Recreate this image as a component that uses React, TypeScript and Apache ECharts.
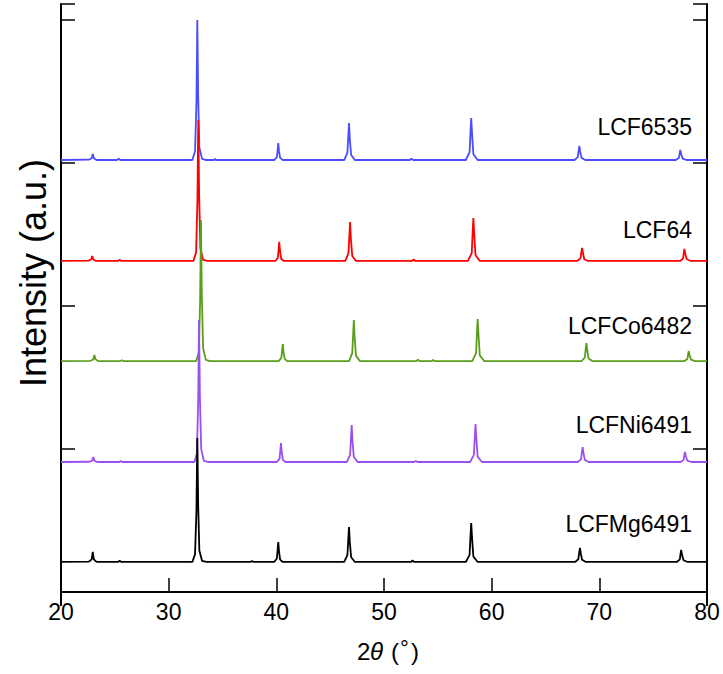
import React, { useEffect, useRef } from "react";
import * as echarts from "echarts";

// 2θ (deg), intensity above each pattern's own baseline (1000 = one y tick)
const lcf6535: number[][] = [
  [20, 0], [22.6, 2], [22.85, 12], [22.95, 42], [23.05, 12], [23.3, 0],
  [25.2, 0], [25.35, 10], [25.5, 0],
  [32.2, 0], [32.45, 60], [32.58, 400], [32.66, 979], [32.74, 450], [32.85, 90], [33.1, 8], [33.5, 0],
  [34.2, 0], [34.3, 8], [34.4, 0],
  [39.8, 0], [40.05, 20], [40.12, 70], [40.18, 119], [40.25, 60], [40.35, 15], [40.6, 0],
  [46.3, 0], [46.6, 50], [46.68, 160], [46.75, 259], [46.82, 150], [46.95, 35], [47.3, 0],
  [52.4, 0], [52.55, 10], [52.7, 0],
  [57.6, 0], [57.95, 55], [58.03, 190], [58.1, 294], [58.18, 180], [58.3, 40], [58.7, 0],
  [67.7, 0], [68.0, 20], [68.08, 65], [68.14, 98], [68.22, 60], [68.35, 15], [68.7, 0],
  [77.1, 0], [77.4, 15], [77.46, 45], [77.52, 70], [77.6, 40], [77.75, 10], [78.1, 0],
  [80, 0],
];

const lcf64: number[][] = [
  [20, 0], [22.55, 2], [22.8, 10], [22.9, 35], [23.0, 10], [23.25, 0],
  [25.3, 0], [25.45, 8], [25.6, 0],
  [32.3, 0], [32.55, 60], [32.67, 420], [32.75, 986], [32.83, 460], [32.95, 90], [33.2, 8], [33.6, 0],
  [39.9, 0], [40.14, 22], [40.21, 80], [40.27, 133], [40.34, 70], [40.45, 15], [40.7, 0],
  [46.4, 0], [46.7, 55], [46.78, 170], [46.85, 273], [46.92, 160], [47.05, 35], [47.4, 0],
  [52.6, 0], [52.75, 10], [52.9, 0],
  [57.8, 0], [58.15, 55], [58.23, 195], [58.3, 301], [58.38, 185], [58.5, 40], [58.9, 0],
  [67.95, 0], [68.25, 18], [68.33, 60], [68.4, 91], [68.48, 55], [68.6, 12], [68.95, 0],
  [77.5, 0], [77.78, 18], [77.84, 55], [77.9, 84], [77.98, 50], [78.12, 12], [78.5, 0],
  [80, 0],
];

const lcfco6482: number[][] = [
  [20, 0], [22.75, 2], [23.0, 12], [23.1, 42], [23.2, 12], [23.45, 0],
  [25.5, 0], [25.65, 6], [25.8, 0],
  [32.55, 0], [32.8, 60], [32.92, 420], [33.0, 986], [33.08, 460], [33.2, 90], [33.45, 8], [33.85, 0],
  [40.2, 0], [40.46, 20], [40.53, 70], [40.6, 119], [40.67, 60], [40.78, 15], [41.0, 0],
  [46.75, 0], [47.05, 55], [47.13, 180], [47.2, 287], [47.27, 170], [47.4, 38], [47.75, 0],
  [53.0, 0], [53.15, 10], [53.3, 0],
  [54.4, 0], [54.55, 8], [54.7, 0],
  [58.2, 0], [58.55, 55], [58.63, 190], [58.7, 294], [58.78, 180], [58.9, 40], [59.3, 0],
  [68.35, 0], [68.65, 25], [68.73, 80], [68.8, 126], [68.88, 75], [69.0, 18], [69.35, 0],
  [77.9, 0], [78.18, 15], [78.24, 45], [78.3, 70], [78.38, 40], [78.52, 10], [78.9, 0],
  [80, 0],
];

const lcfni6491: number[][] = [
  [20, 0], [22.65, 2], [22.9, 10], [23.0, 35], [23.1, 10], [23.35, 0],
  [25.4, 0], [25.55, 6], [25.7, 0],
  [32.4, 0], [32.62, 60], [32.74, 420], [32.82, 993], [32.9, 460], [33.02, 90], [33.27, 8], [33.7, 0],
  [40.05, 0], [40.3, 22], [40.37, 80], [40.43, 133], [40.5, 70], [40.61, 15], [40.85, 0],
  [46.55, 0], [46.85, 50], [46.93, 160], [47.0, 259], [47.07, 150], [47.2, 35], [47.55, 0],
  [52.8, 0], [52.95, 8], [53.1, 0],
  [58.0, 0], [58.35, 50], [58.43, 170], [58.5, 266], [58.58, 160], [58.7, 36], [59.1, 0],
  [68.0, 0], [68.3, 20], [68.38, 68], [68.45, 105], [68.53, 62], [68.65, 15], [69.0, 0],
  [77.55, 0], [77.83, 15], [77.89, 45], [77.95, 70], [78.03, 40], [78.17, 10], [78.55, 0],
  [80, 0],
];

const lcfmg6491: number[][] = [
  [20, 0], [22.6, 3], [22.85, 18], [22.95, 70], [23.05, 18], [23.3, 0],
  [25.3, 0], [25.45, 8], [25.6, 0],
  [32.2, 0], [32.45, 55], [32.58, 360], [32.66, 867], [32.74, 400], [32.85, 80], [33.1, 8], [33.5, 0],
  [37.6, 0], [37.75, 6], [37.9, 0],
  [39.8, 0], [40.05, 24], [40.12, 85], [40.18, 140], [40.25, 75], [40.35, 16], [40.6, 0],
  [46.3, 0], [46.6, 48], [46.68, 150], [46.75, 245], [46.82, 142], [46.95, 33], [47.3, 0],
  [52.5, 0], [52.65, 10], [52.8, 0],
  [57.6, 0], [57.95, 50], [58.03, 175], [58.1, 273], [58.18, 165], [58.3, 38], [58.7, 0],
  [67.75, 0], [68.05, 20], [68.13, 65], [68.2, 98], [68.28, 60], [68.4, 15], [68.75, 0],
  [77.2, 0], [77.48, 18], [77.54, 55], [77.6, 84], [77.68, 50], [77.82, 12], [78.2, 0],
  [80, 0],
];

const seriesNames = ["LCF6535", "LCF64", "LCFCo6482", "LCFNi6491", "LCFMg6491"];
const seriesData = [lcf6535, lcf64, lcfco6482, lcfni6491, lcfmg6491];
const offsets = [3021, 2315, 1615, 909, 210];
const colors = ["#4b4bff", "#ff0000", "#5a9e1c", "#9a4ff2", "#000000"];
const labelY = [128, 231, 327, 426, 525];
const xTicks = [20, 30, 40, 50, 60, 70, 80];

const FONT = "'Liberation Sans', Arial, sans-serif";

export default function App() {
  const ref = useRef<HTMLDivElement>(null);
  useEffect(() => {
    if (!ref.current) return;
    const chart = echarts.init(ref.current, undefined, { renderer: "svg" });
    const series = seriesData.map((d, i) => ({
      name: seriesNames[i],
      type: "line",
      xAxisIndex: 0,
      yAxisIndex: 0,
      showSymbol: false,
      symbol: "none",
      silent: true,
      lineStyle: { color: colors[i], width: 1.8 },
      data: d.map((p) => [p[0], p[1] + offsets[i]]),
    }));
    const labels = seriesNames.map((n, i) => ({
      type: "text",
      right: 31,
      top: labelY[i] - 13,
      style: { text: n, fontSize: 23, fontFamily: FONT, fill: "#000", textAlign: "right" },
    }));
    const nameStyle = { fontSize: 24, fontFamily: FONT, fill: "#000", textVerticalAlign: "middle" };
    chart.setOption({
      animation: false,
      backgroundColor: "#fff",
      grid: { left: 61, right: 16, top: 4, bottom: 82 },
      xAxis: [
        {
          type: "value",
          position: "bottom",
          min: xTicks[0],
          max: xTicks[xTicks.length - 1],
          interval: 10,
          axisLine: { lineStyle: { color: "#000", width: 2 } },
          axisTick: { inside: true, length: 14, lineStyle: { color: "#000", width: 1.5 } },
          axisLabel: { fontSize: 23, color: "#000", fontFamily: FONT, margin: 8 },
          splitLine: { show: false },
        },
        {
          type: "value",
          position: "top",
          min: xTicks[0],
          max: xTicks[xTicks.length - 1],
          axisLine: { lineStyle: { color: "#000", width: 2 } },
          axisTick: { inside: true, length: 14, customValues: [20, 80], lineStyle: { color: "#000", width: 2 } },
          axisLabel: { show: false },
          splitLine: { show: false },
        },
      ],
      yAxis: [
        {
          type: "value",
          position: "left",
          min: 0,
          max: 4112,
          interval: 1000,
          axisLine: { show: true, lineStyle: { color: "#000", width: 2 } },
          axisTick: { show: true, inside: true, length: 14, lineStyle: { color: "#000", width: 1.5 } },
          axisLabel: { show: false },
          splitLine: { show: false },
        },
        {
          type: "value",
          position: "right",
          min: 0,
          max: 4112,
          interval: 1000,
          axisLine: { show: true, lineStyle: { color: "#000", width: 2 } },
          axisTick: { show: true, inside: true, length: 14, lineStyle: { color: "#000", width: 1.5 } },
          axisLabel: { show: false },
          splitLine: { show: false },
        },
      ],
      series,
      graphic: [
        ...labels,
        {
          type: "group",
          x: 357,
          y: 651,
          children: [
            { type: "text", x: 0, y: 0, style: { ...nameStyle, text: "2", textAlign: "left" } },
            { type: "text", x: 13, y: 0, style: { ...nameStyle, text: "θ", fontStyle: "italic", textAlign: "left" } },
            { type: "text", x: 34, y: 0, style: { ...nameStyle, text: "(", textAlign: "left" } },
            { type: "text", x: 43, y: -3, style: { ...nameStyle, fontSize: 22, text: "°", textAlign: "left" } },
            { type: "text", x: 54, y: 0, style: { ...nameStyle, text: ")", textAlign: "left" } },
          ],
        },
        {
          type: "text",
          x: 33,
          y: 273,
          rotation: Math.PI / 2,
          style: {
            text: "Intensity (a.u.)",
            fontSize: 36,
            fontFamily: FONT,
            fill: "#000",
            textAlign: "center",
            textVerticalAlign: "middle",
          },
        },
      ],
    });
    return () => chart.dispose();
  }, []);
  return (
    <div
      ref={ref}
      style={{ position: "fixed", left: 0, top: 0, width: 723, height: 674, background: "#fff" }}
    />
  );
}
